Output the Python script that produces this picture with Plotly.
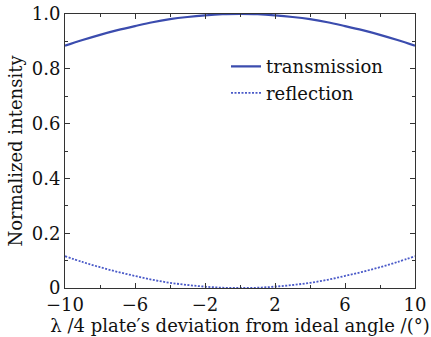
import plotly.graph_objects as go

angle = [-10, -9, -8, -7, -6, -5, -4, -3, -2, -1, 0, 1, 2, 3, 4, 5, 6, 7, 8, 9, 10]
transmission = [0.884, 0.905, 0.924, 0.941, 0.956, 0.970, 0.981, 0.989, 0.995, 0.999, 1.0,
                0.999, 0.995, 0.989, 0.981, 0.970, 0.956, 0.941, 0.924, 0.905, 0.884]
reflection = [0.116, 0.095, 0.076, 0.059, 0.044, 0.030, 0.019, 0.011, 0.005, 0.001, 0.0,
              0.001, 0.005, 0.011, 0.019, 0.030, 0.044, 0.059, 0.076, 0.095, 0.116]

x_ticks = [-10, -6, -2, 2, 6, 10]
x_tick_labels = ["\u221210", "\u22126", "\u22122", "2", "6", "10"]
x_minor = [-8, -4, 0, 4, 8]
y_ticks = [0, 0.2, 0.4, 0.6, 0.8, 1.0]
y_tick_labels = ["0", "0.2", "0.4", "0.6", "0.8", "1.0"]
y_minor = [0.1, 0.3, 0.5, 0.7, 0.9]

color = "#3b4cae"
font = "DejaVu Serif"

fig = go.Figure()
fig.add_trace(go.Scatter(x=angle, y=transmission, mode="lines", name="transmission",
                         line=dict(color=color, width=2.2, shape="spline")))
fig.add_trace(go.Scatter(x=angle, y=reflection, mode="lines", name="reflection",
                         line=dict(color="#4a5ac8", width=1.8, dash="2px,1.5px", shape="spline")))

axis_common = dict(showline=True, linecolor="#333", linewidth=1, mirror="allticks",
                   ticks="inside", ticklen=5, tickcolor="#333", showgrid=False,
                   zeroline=False, automargin=False,
                   tickfont=dict(family=font, size=18, color="#111"))

fig.update_layout(
    width=431, height=337,
    margin=dict(l=65, r=16, t=14, b=49, autoexpand=False),
    paper_bgcolor="white", plot_bgcolor="white",
    font=dict(family=font, color="#111"),
    showlegend=True,
    legend=dict(x=0.46, y=0.875, xanchor="left", yanchor="top",
                bgcolor="rgba(0,0,0,0)", font=dict(family=font, size=18, color="#111"),
                tracegroupgap=0, itemwidth=30),
    xaxis=dict(range=[-10, 10], tickvals=x_ticks, ticktext=x_tick_labels,
               minor=dict(tickvals=x_minor, ticks="inside", ticklen=3, tickcolor="#333"),
               title=dict(text="\u03bb /4 plate\u2032s deviation from ideal angle /(\u00b0)",
                          font=dict(family=font, size=18, color="#111"), standoff=2),
               **axis_common),
    yaxis=dict(range=[0, 1.0], tickvals=y_ticks, ticktext=y_tick_labels,
               minor=dict(tickvals=y_minor, ticks="inside", ticklen=3, tickcolor="#333"),
               title=dict(text="Normalized intensity",
                          font=dict(family=font, size=18, color="#111"), standoff=4),
               **axis_common),
)

# remove the default 8px body margin so the figure fills the window exactly
fig.write_html("out.html",
               config={"displayModeBar": False},
               post_script="document.body.style.margin='0';document.body.style.overflow='hidden';")
